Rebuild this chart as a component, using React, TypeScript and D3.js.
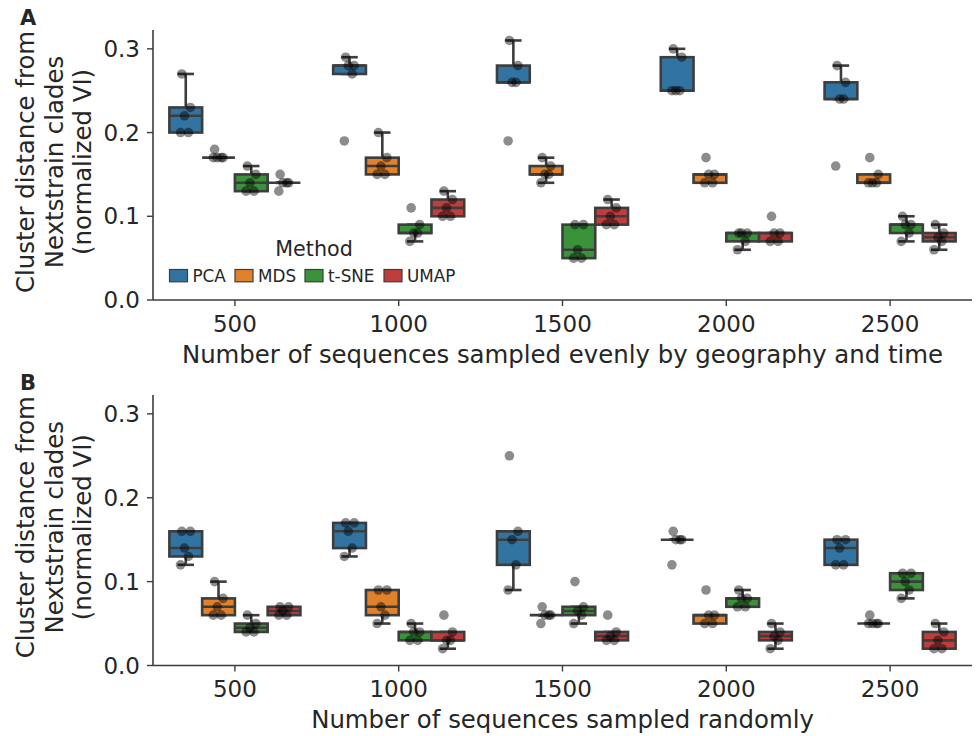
import * as d3 from "d3";

const sizes = ["500", "1000", "1500", "2000", "2500"];
const methods = ["PCA", "MDS", "t-SNE", "UMAP"];
const colors = ["#3274a1", "#e1812c", "#3a923a", "#c03d3e"];
const yTicks = [0, 0.1, 0.2, 0.3];

// panel A: sampled evenly by geography and time (one list of replicates per size)
const evenPCA = [
  [0.27, 0.23, 0.22, 0.2, 0.2],
  [0.29, 0.28, 0.28, 0.27, 0.19],
  [0.31, 0.28, 0.26, 0.26, 0.19],
  [0.3, 0.29, 0.25, 0.25, 0.25],
  [0.28, 0.26, 0.24, 0.24, 0.16],
];
const evenMDS = [
  [0.18, 0.17, 0.17, 0.17, 0.17],
  [0.2, 0.17, 0.16, 0.15, 0.15],
  [0.17, 0.16, 0.15, 0.15, 0.14],
  [0.17, 0.15, 0.15, 0.14, 0.14],
  [0.17, 0.15, 0.14, 0.14, 0.14],
];
const evenTSNE = [
  [0.16, 0.15, 0.14, 0.13, 0.13],
  [0.11, 0.09, 0.08, 0.08, 0.07],
  [0.09, 0.09, 0.06, 0.05, 0.05],
  [0.08, 0.08, 0.08, 0.07, 0.06],
  [0.1, 0.09, 0.09, 0.08, 0.07],
];
const evenUMAP = [
  [0.15, 0.14, 0.14, 0.14, 0.13],
  [0.13, 0.12, 0.11, 0.1, 0.1],
  [0.12, 0.11, 0.1, 0.09, 0.09],
  [0.1, 0.08, 0.08, 0.07, 0.07],
  [0.09, 0.08, 0.075, 0.07, 0.06],
];

// panel B: sampled randomly
const randPCA = [
  [0.16, 0.16, 0.14, 0.13, 0.12],
  [0.17, 0.17, 0.16, 0.14, 0.13],
  [0.25, 0.16, 0.15, 0.12, 0.09],
  [0.16, 0.15, 0.15, 0.15, 0.12],
  [0.15, 0.15, 0.14, 0.12, 0.12],
];
const randMDS = [
  [0.1, 0.08, 0.07, 0.06, 0.06],
  [0.09, 0.09, 0.07, 0.06, 0.05],
  [0.07, 0.06, 0.06, 0.06, 0.05],
  [0.09, 0.06, 0.06, 0.05, 0.05],
  [0.06, 0.05, 0.05, 0.05, 0.05],
];
const randTSNE = [
  [0.06, 0.05, 0.045, 0.04, 0.04],
  [0.05, 0.04, 0.04, 0.03, 0.03],
  [0.1, 0.07, 0.065, 0.06, 0.05],
  [0.09, 0.08, 0.08, 0.07, 0.07],
  [0.11, 0.11, 0.1, 0.09, 0.08],
];
const randUMAP = [
  [0.07, 0.07, 0.065, 0.06, 0.06],
  [0.06, 0.04, 0.03, 0.03, 0.02],
  [0.06, 0.04, 0.035, 0.03, 0.03],
  [0.05, 0.04, 0.035, 0.03, 0.02],
  [0.05, 0.04, 0.03, 0.02, 0.02],
];

// small fixed horizontal spread for the strip points (fraction of box width)
const jitter = [-0.12, 0.14, -0.04, 0.08, -0.16];

const W = 979;
const H = 736;
const LEFT = 153;
const RIGHT = 972;
const LINE = "#3d3d3d";
const TEXT = "#262626";
const FONT = "DejaVu Sans";
const FS = 23;
const LABEL_FS = 24.4;

function boxStats(vals: number[]) {
  const s = [...vals].sort(d3.ascending);
  const q1 = d3.quantileSorted(s, 0.25)!;
  const med = d3.quantileSorted(s, 0.5)!;
  const q3 = d3.quantileSorted(s, 0.75)!;
  const iqr = q3 - q1;
  const lo = d3.min(s.filter((d) => d >= q1 - 1.5 * iqr - 1e-9))!;
  const hi = d3.max(s.filter((d) => d <= q3 + 1.5 * iqr + 1e-9))!;
  return { q1, med, q3, lo, hi };
}

function Panel({ top, bottom, series, xlabel, letter, legend }: any) {
  const x = d3.scaleBand().domain(sizes).range([LEFT, RIGHT]);
  const hue = d3
    .scaleBand()
    .domain(methods)
    .range([x.bandwidth() * 0.1, x.bandwidth() * 0.9]);
  const y = d3.scaleLinear().domain([0, 0.3225]).range([bottom, top]);
  const bw = hue.bandwidth();
  const mid = (top + bottom) / 2 - 3;

  return (
    <g>
      <text x={20} y={top - 5} fontFamily={FONT} fontWeight="bold" fontSize={21} fill={TEXT}>
        {letter}
      </text>
      {/* y label */}
      <g transform={`translate(0,${mid}) rotate(-90)`} fontFamily={FONT} fontSize={LABEL_FS} fill={TEXT} textAnchor="middle">
        <text x={0} y={34}>Cluster distance from</text>
        <text x={0} y={62.5}>Nextstrain clades</text>
        <text x={0} y={91}>(normalized VI)</text>
      </g>
      {/* axes */}
      <line x1={LEFT} x2={LEFT} y1={top} y2={bottom} stroke={LINE} strokeWidth={1.6} />
      <line x1={LEFT} x2={RIGHT} y1={bottom} y2={bottom} stroke={LINE} strokeWidth={1.6} />
      {yTicks.map((t) => (
        <g key={t} transform={`translate(${LEFT},${y(t)})`}>
          <line x1={-6} x2={0} stroke={LINE} strokeWidth={1.4} />
          <text x={-13} dy="0.35em" textAnchor="end" fontFamily={FONT} fontSize={FS} fill={TEXT}>
            {d3.format(".1f")(t)}
          </text>
        </g>
      ))}
      {sizes.map((s) => (
        <g key={s} transform={`translate(${x(s)! + x.bandwidth() / 2},${bottom})`}>
          <line y1={0} y2={6} stroke={LINE} strokeWidth={1.4} />
          <text y={31.5} textAnchor="middle" fontFamily={FONT} fontSize={FS} fill={TEXT}>
            {s}
          </text>
        </g>
      ))}
      <text x={(LEFT + RIGHT) / 2} y={bottom + 62.5} textAnchor="middle" fontFamily={FONT} fontSize={LABEL_FS} fill={TEXT}>
        {xlabel}
      </text>
      {/* boxes */}
      {methods.map((m, mi) =>
        sizes.map((s, si) => {
          const vals = series[mi][si] as number[];
          const st = boxStats(vals);
          const x0 = x(s)! + hue(m)!;
          const cx = x0 + bw / 2;
          const cap = bw / 4;
          return (
            <g key={m + s}>
              <line x1={cx} x2={cx} y1={y(st.q3)} y2={y(st.hi)} stroke={LINE} strokeWidth={2.6} />
              <line x1={cx} x2={cx} y1={y(st.q1)} y2={y(st.lo)} stroke={LINE} strokeWidth={2.6} />
              <line x1={cx - cap} x2={cx + cap} y1={y(st.hi)} y2={y(st.hi)} stroke={LINE} strokeWidth={2.6} />
              <line x1={cx - cap} x2={cx + cap} y1={y(st.lo)} y2={y(st.lo)} stroke={LINE} strokeWidth={2.6} />
              <rect
                x={x0}
                y={y(st.q3)}
                width={bw}
                height={y(st.q1) - y(st.q3)}
                fill={colors[mi]}
                stroke={LINE}
                strokeWidth={2.6}
              />
              <line x1={x0} x2={x0 + bw} y1={y(st.med)} y2={y(st.med)} stroke={LINE} strokeWidth={2.6} />
            </g>
          );
        })
      )}
      {/* strip points */}
      {methods.map((m, mi) =>
        sizes.map((s, si) =>
          (series[mi][si] as number[]).map((v, k) => (
            <circle
              key={m + s + k}
              cx={x(s)! + hue(m)! + bw / 2 + jitter[k] * bw}
              cy={y(v)}
              r={4.8}
              fill="#000"
              fillOpacity={0.45}
            />
          ))
        )
      )}
      {legend && (
        <g fontFamily={FONT} fill={TEXT}>
          <text x={314} y={256} textAnchor="middle" fontSize={20.7}>
            Method
          </text>
          {methods.map((m, i) => {
            const lx = [169.5, 235, 305, 384][i];
            return (
              <g key={m} transform={`translate(${lx},269.5)`}>
                <rect width={18} height={12.3} fill={colors[i]} stroke={LINE} strokeWidth={1.2} />
                <text x={23} y={12.2} fontSize={16.8}>
                  {m}
                </text>
              </g>
            );
          })}
        </g>
      )}
    </g>
  );
}

export default function App() {
  return (
    <svg
      width={W}
      height={H}
      viewBox={`0 0 ${W} ${H}`}
      style={{ position: "absolute", left: 0, top: 0, background: "#fff" }}
    >
      <rect width={W} height={H} fill="#fff" />
      <Panel
        top={30}
        bottom={300}
        series={[evenPCA, evenMDS, evenTSNE, evenUMAP]}
        xlabel="Number of sequences sampled evenly by geography and time"
        letter="A"
        legend
      />
      <Panel
        top={395}
        bottom={665.5}
        series={[randPCA, randMDS, randTSNE, randUMAP]}
        xlabel="Number of sequences sampled randomly"
        letter="B"
      />
    </svg>
  );
}
